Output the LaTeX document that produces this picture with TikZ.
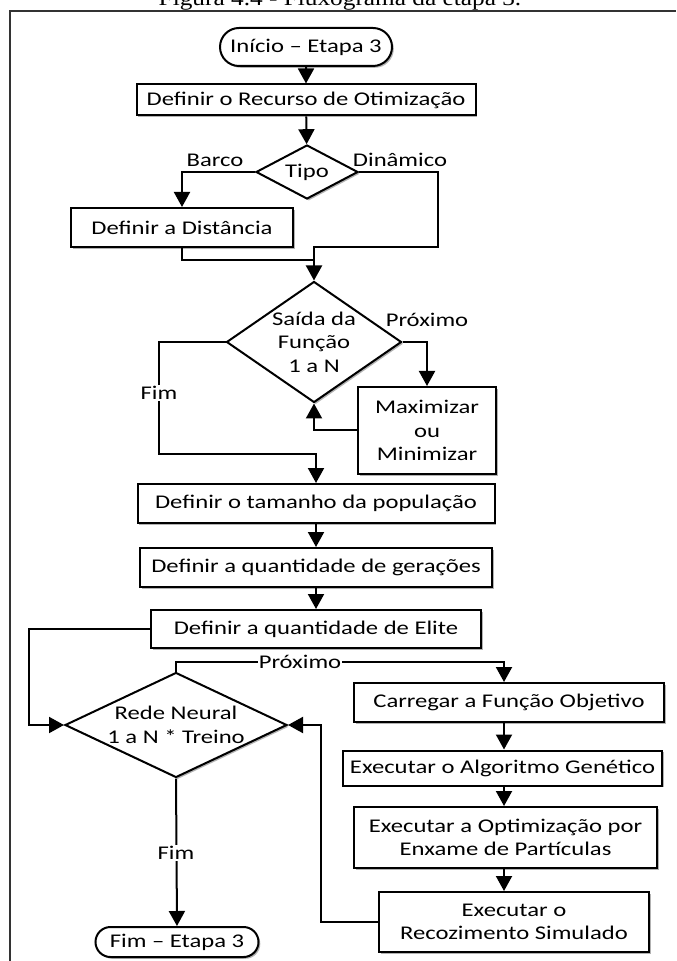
\documentclass[tikz,border=0pt]{standalone}
\usepackage{fontspec}
\setmainfont{Carlito}[FakeStretch=1.27]
\newfontfamily\capfont{Liberation Serif}[FakeStretch=1.15]
\usetikzlibrary{shapes.geometric,shapes.misc,arrows.meta,shadows}

\begin{document}
\begin{tikzpicture}[x=0.5pt,y=-0.5pt,
  txt/.style={font=\fontsize{9.7}{11.75}\selectfont, align=center, inner sep=1pt},
  shade/.style={drop shadow={shadow xshift=0.9pt, shadow yshift=-0.9pt, opacity=0.3, fill=black}},
  procbox/.style={txt, draw, line width=1pt, fill=white, shade, inner sep=0pt},
  termbox/.style={procbox, rounded rectangle},
  decbox/.style={draw, line width=1pt, fill=white, shade, diamond, inner sep=0pt},
  flow/.style={line width=1pt},
  arr/.style={flow, -{Triangle[length=7.5pt,width=8pt]}},
  lbl/.style={txt},
  lblw/.style={txt, fill=white, inner sep=0.5pt}]

  \clip (0,0) rectangle (676,961);

  % caption and frame
  \node[font=\capfont\fontsize{11}{13}\selectfont, anchor=base, inner sep=0pt] (cap) at (340,6) {Figura 4.4 - Fluxograma da etapa 3.};
  \draw[line width=0.7pt, black!80] (10,961) -- (10,11) -- (676,11);

  % main column
  \node[termbox, minimum width=86pt, minimum height=19pt] (start) at (306,47) {Início – Etapa 3};
  \node[procbox, minimum width=169.5pt, minimum height=15.5pt] (recurso) at (306,100) {Definir o Recurso de Otimização};
  \node[decbox, minimum width=51pt, minimum height=27pt] (tipo) at (307,172) {};
  \node[txt] (tipotxt) at (tipo.center) {Tipo};
  \node[procbox, minimum width=111pt, minimum height=19.5pt] (dist) at (182,227.5) {Definir a Distância};
  \node[decbox, minimum width=87.5pt, minimum height=60.5pt] (saida) at (314,342) {};
  \node[txt] (saidatxt) at (saida.center) {Saída da\\Função\\1 a N};
  \node[procbox, minimum width=69pt, minimum height=43.5pt] (maxi) at (427,430.5) {Maximizar\\ou\\Minimizar};
  \node[procbox, minimum width=178.5pt, minimum height=19.5pt] (pop) at (316,503.5) {Definir o tamanho da população};
  \node[procbox, minimum width=176pt, minimum height=19.5pt] (ger) at (316,567.5) {Definir a quantidade de gerações};
  \node[procbox, minimum width=165pt, minimum height=19pt] (elite) at (316,629) {Definir a quantidade de Elite};

  % training loop
  \node[decbox, minimum width=111pt, minimum height=52.5pt] (rede) at (176,725) {};
  \node[txt] (redetxt) at (rede.center) {Rede Neural\\1 a N * Treino};
  \node[termbox, minimum width=81.5pt, minimum height=15pt] (fim) at (177,942) {Fim – Etapa 3};

  % right column
  \node[procbox, minimum width=155pt, minimum height=19.5pt] (carr) at (509,702.5) {Carregar a Função Objetivo};
  \node[procbox, minimum width=159.5pt, minimum height=17.5pt] (gen) at (502.5,768) {Executar o Algoritmo Genético};
  \node[procbox, minimum width=151.5pt, minimum height=30.5pt] (pso) at (505.5,837.5) {Executar a Optimização por\\Enxame de Partículas};
  \node[procbox, minimum width=135pt, minimum height=30pt] (sa) at (514,922) {Executar o\\Recozimento Simulado};

  % junction points
  \coordinate (tipoR) at (438,247);
  \coordinate (join) at (314,260);
  \coordinate (fimL) at (159,454);
  \coordinate (eliteL) at (29,629);
  \coordinate (prox) at (504,662);
  \coordinate (saR) at (321,725);

  % connectors
  \draw[arr] (start) -- (recurso);
  \draw[arr] (recurso) -- (tipo);
  \draw[arr] (tipo.west) -| (dist.north);
  \draw[arr] (tipo.east) -| (tipoR) -| (saida.north);
  \draw[flow] (dist.south) |- (join);
  \draw[arr] (saida.east) -| (maxi.north);
  \draw[arr] (maxi.west) -| (saida.south);
  \draw[arr] (saida.west) -| (fimL) -| (pop.north);
  \draw[arr] (pop) -- (ger);
  \draw[arr] (ger) -- (elite);
  \draw[arr] (elite.west) -- (eliteL) |- (rede.west);
  \draw[arr] (rede.north) |- (prox) -- (carr.north -| prox);
  \draw[arr] (carr.south -| prox) -- (gen.north -| prox);
  \draw[arr] (gen.south -| prox) -- (pso.north -| prox);
  \draw[arr] (pso.south -| prox) -- (sa.north -| prox);
  \draw[arr] (sa.west) -| (saR) -- (rede.east);
  \draw[arr] (rede.south) -- (fim.north);

  % branch labels
  \node[lbl] (lbarco) at (215,160) {Barco};
  \node[lbl] (ldin) at (400,160) {Dinâmico};
  \node[lbl] (lprox1) at (427,320) {Próximo};
  \node[lblw] (lfim1) at (159,393) {Fim};
  \node[lblw] (lprox2) at (300,662) {Próximo};
  \node[lblw] (lfim2) at (176,853) {Fim};
\end{tikzpicture}
\end{document}
